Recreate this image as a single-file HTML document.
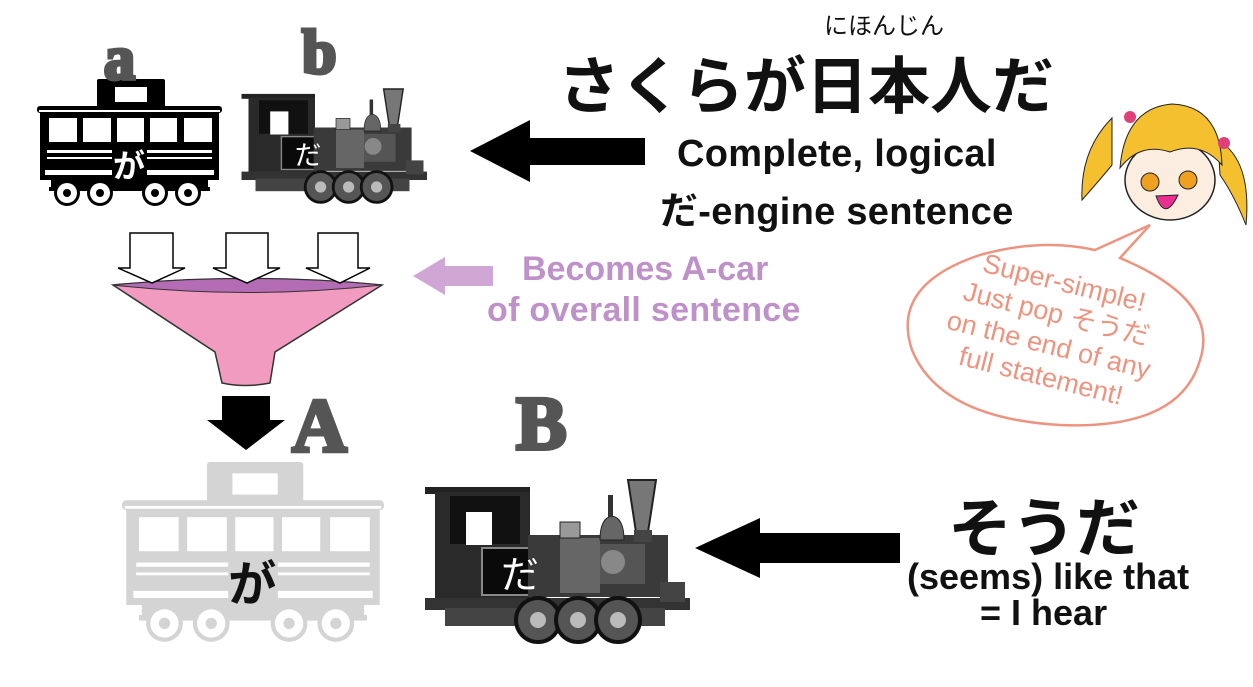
<!DOCTYPE html>
<html><head><meta charset="utf-8"><style>
html,body{margin:0;padding:0;background:#fff;}
body{width:1253px;height:687px;position:relative;overflow:hidden;font-family:"Liberation Sans","Noto Sans CJK JP",sans-serif;}
.t{position:absolute;white-space:nowrap;font-weight:bold;}
.L{font-family:'Liberation Serif',serif;color:#555;-webkit-text-stroke:4px #555;}
</style></head><body>
<svg width="1253" height="687" style="position:absolute;left:0;top:0">
<defs>
<g id="car">
  <rect x="60" y="0" width="68" height="30" rx="2"/>
  <rect x="0" y="27" width="185" height="7" rx="3"/>
  <rect x="3" y="30" width="179" height="71"/>
  <rect x="12" y="108" width="161" height="4"/>
  <rect x="14" y="100" width="157" height="10"/>
  <circle cx="30" cy="114" r="13"/><circle cx="63" cy="114" r="13"/>
  <circle cx="118" cy="114" r="13"/><circle cx="151" cy="114" r="13"/>
</g>
<g id="carw" fill="#fff">
  <rect x="78" y="8" width="32" height="15"/>
  <rect x="2" y="31" width="181" height="2"/>
  <rect x="12" y="39" width="28" height="24"/><rect x="46" y="39" width="28" height="24"/>
  <rect x="80" y="39" width="27" height="24"/><rect x="113" y="39" width="27" height="24"/>
  <rect x="147" y="39" width="28" height="24"/>
  <rect x="10" y="71" width="65" height="3"/><rect x="110" y="71" width="65" height="3"/>
  <rect x="10" y="78" width="65" height="2"/><rect x="110" y="78" width="65" height="2"/>
  <rect x="8" y="91" width="67" height="5"/><rect x="110" y="91" width="67" height="5"/>
  <circle cx="30" cy="114" r="10"/><circle cx="63" cy="114" r="10"/>
  <circle cx="118" cy="114" r="10"/><circle cx="151" cy="114" r="10"/>
</g>
<g id="loco">
  <rect x="5" y="17" width="105" height="7" fill="#222"/>
  <rect x="15" y="22" width="95" height="118" fill="#2a2a2a"/>
  <rect x="30" y="26" width="70" height="48" fill="#111"/>
  <rect x="46" y="42" width="26" height="33" fill="#fff"/>
  <rect x="62" y="78" width="78" height="47" fill="#0a0a0a" stroke="#888" stroke-width="2"/>
  <rect x="108" y="65" width="140" height="62" fill="#3a3a3a"/>
  <rect x="140" y="68" width="40" height="55" fill="#666"/>
  <rect x="180" y="74" width="45" height="40" fill="#555"/>
  <circle cx="193" cy="92" r="12" fill="#888"/>
  <path d="M208 10 L236 10 L228 62 L216 62 Z" fill="#777" stroke="#222" stroke-width="2"/>
  <rect x="214" y="60" width="18" height="12" fill="#444"/>
  <path d="M180 70 Q180 48 192 46 Q204 48 204 70 Z" fill="#666" stroke="#222"/>
  <rect x="188" y="25" width="5" height="22" fill="#333"/>
  <rect x="140" y="52" width="20" height="16" fill="#999" stroke="#222"/>
  <rect x="5" y="128" width="265" height="12" fill="#333"/>
  <rect x="25" y="138" width="220" height="18" fill="#444"/>
  <circle cx="118" cy="150" r="22" fill="#555" stroke="#111" stroke-width="4"/>
  <circle cx="158" cy="150" r="22" fill="#555" stroke="#111" stroke-width="4"/>
  <circle cx="198" cy="150" r="22" fill="#555" stroke="#111" stroke-width="4"/>
  <circle cx="118" cy="150" r="8" fill="#bbb"/><circle cx="158" cy="150" r="8" fill="#bbb"/><circle cx="198" cy="150" r="8" fill="#bbb"/>
  <rect x="240" y="112" width="25" height="20" fill="#444"/>
  <text x="100" y="118" font-size="38" fill="#fff" text-anchor="middle" font-family="Noto Sans CJK JP,sans-serif">だ</text>
</g>
</defs>
<g transform="translate(37,79)"><use href="#car" fill="#000"/><use href="#carw"/>
<circle cx="30" cy="114" r="4"/><circle cx="63" cy="114" r="4"/><circle cx="118" cy="114" r="4"/><circle cx="151" cy="114" r="4"/>
<rect x="78" y="66" width="30" height="34" fill="#000"/>
<text x="92" y="98" font-size="32" fill="#fff" text-anchor="middle" font-weight="bold" font-family="Noto Sans CJK JP,sans-serif">が</text></g>
<g transform="translate(238,82) scale(0.7)"><use href="#loco"/></g>
<g transform="translate(122,462) scale(1.416)"><use href="#car" fill="#d4d4d4"/><use href="#carw"/>
<circle cx="30" cy="114" r="4" fill="#d4d4d4"/><circle cx="63" cy="114" r="4" fill="#d4d4d4"/><circle cx="118" cy="114" r="4" fill="#d4d4d4"/><circle cx="151" cy="114" r="4" fill="#d4d4d4"/>
<rect x="76" y="64" width="34" height="36" fill="#d4d4d4"/>
<text x="92" y="98" font-size="34" fill="#111" text-anchor="middle" font-weight="bold" font-family="Noto Sans CJK JP,sans-serif">が</text></g>
<g transform="translate(420,470)"><use href="#loco"/></g>
<path d="M645 138 L530 138 L530 120 L470 151 L530 182 L530 165 L645 165 Z" fill="#000"/>
<path d="M900 533 L760 533 L760 518 L695 548 L760 578 L760 563 L900 563 Z" fill="#000"/>
<path d="M222 396 L270 396 L270 420 L285 420 L246 450 L207 420 L222 420 Z" fill="#000"/>
<path d="M493 266 L445 266 L445 257 L413 276 L445 295 L445 286 L493 286 Z" fill="#cfa6d4"/>
<path d="M113 285 Q248 272 382 285 L275 352 L270 383 Q245 388 222 383 L215 352 Z" fill="#f09bbf" stroke="#333" stroke-width="1.5"/>
<path d="M113 285 Q248 272 382 285 Q248 300 113 285 Z" fill="#b46cb5" stroke="#333" stroke-width="1"/>
<g fill="#fff" stroke="#000" stroke-width="1.5">
<path d="M130 233 L173 233 L173 268 L185 268 L152 283 L118 268 L130 268 Z"/>
<path d="M226 233 L268 233 L268 268 L280 268 L247 283 L213 268 L226 268 Z"/>
<path d="M318 233 L358 233 L358 268 L370 268 L340 283 L306 268 L318 268 Z"/>
</g>
<path d="M1150 225 L1120 258 Q1220 300 1200 360 Q1180 430 1060 425 Q940 418 912 350 Q890 285 980 255 Q1040 238 1095 250 Z" fill="#fff" stroke="#ec9480" stroke-width="2.5"/>
<g>
<path d="M1112 118 Q1080 150 1082 200 Q1098 182 1112 165 Z" fill="#f5c030" stroke="#222"/>
<path d="M1218 140 Q1252 160 1246 225 Q1234 195 1220 175 Z" fill="#f5c030" stroke="#222"/>
<ellipse cx="1170" cy="180" rx="45" ry="40" fill="#fbeee0" stroke="#222" stroke-width="1.5"/>
<path d="M1120 168 Q1125 108 1172 104 Q1220 106 1222 165 Q1200 140 1170 152 Q1140 142 1120 168 Z" fill="#f5c030" stroke="#222"/>
<circle cx="1150" cy="182" r="9" fill="#f0a020" stroke="#222"/><circle cx="1188" cy="180" r="9" fill="#f0a020" stroke="#222"/>
<path d="M1156 196 Q1165 222 1178 195 Z" fill="#e83090" stroke="#222"/>
<circle cx="1130" cy="117" r="6" fill="#e0407a"/><circle cx="1224" cy="143" r="6" fill="#e0407a"/>
</g>
<g transform="rotate(14 1050 340)" fill="#ec9480" font-family="Liberation Sans,Noto Sans CJK JP,sans-serif" font-size="27" text-anchor="middle">
<text x="1050" y="290">Super-simple!</text>
<text x="1050" y="322">Just pop そうだ</text>
<text x="1050" y="354">on the end of any</text>
<text x="1050" y="386">full statement!</text>
</g>
</svg>
<div class="t L" style="left:104px;top:24px;font-size:62px;">a</div>
<div class="t L" style="left:302px;top:18px;font-size:62px;">b</div>
<div class="t L" style="left:292px;top:383px;font-size:76px;">A</div>
<div class="t L" style="left:516px;top:381px;font-size:76px;">B</div>
<div class="t" style="left:824px;top:6px;font-size:24px;color:#111;font-weight:normal;">にほんじん</div>
<div class="t" style="left:558px;top:36px;font-size:62px;color:#111;">さくらが日本人だ</div>
<div class="t" style="left:677px;top:133px;font-size:38px;color:#111;letter-spacing:0.3px;">Complete, logical</div>
<div class="t" style="left:660px;top:180px;font-size:38px;color:#111;letter-spacing:0.3px;">だ-engine sentence</div>
<div class="t" style="left:522px;top:250px;font-size:34px;color:#be92c9;">Becomes A-car</div>
<div class="t" style="left:487px;top:291px;font-size:34px;color:#be92c9;letter-spacing:0.3px;">of overall sentence</div>
<div class="t" style="left:948px;top:478px;font-size:64px;color:#111;">そうだ</div>
<div class="t" style="left:907px;top:556px;font-size:36px;color:#111;">(seems) like that</div>
<div class="t" style="left:980px;top:592px;font-size:36px;color:#111;">= I hear</div>
</body></html>
